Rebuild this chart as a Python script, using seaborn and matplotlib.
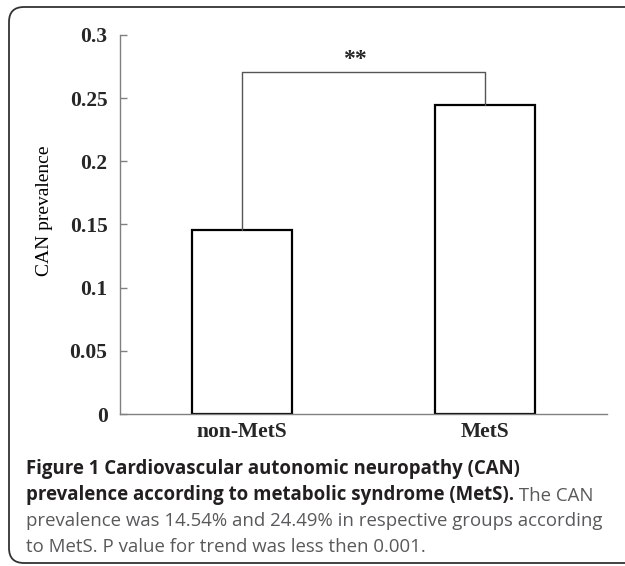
import matplotlib
matplotlib.use("Agg")
import matplotlib.pyplot as plt
import matplotlib.patches as mpatches
import matplotlib.transforms as mtransforms
import seaborn as sns
import pandas as pd

# data
groups = ["non-MetS", "MetS"]
prevalence = [0.1454, 0.2449]
y_ticks = [0, 0.05, 0.1, 0.15, 0.2, 0.25, 0.3]
y_tick_labels = ["0", "0.05", "0.1", "0.15", "0.2", "0.25", "0.3"]
bracket_y = 0.271
sig_label = "**"

df = pd.DataFrame({"group": groups, "prev": prevalence})

sns.set_theme(style="white")
plt.rcParams["font.family"] = ["Liberation Serif", "DejaVu Serif"]

W, H = 625, 566
fig = plt.figure(figsize=(W / 100, H / 100), dpi=100)
ax = fig.add_axes([120 / W, 1 - 414 / H, (607 - 120) / W, (414 - 35) / H])

sns.barplot(data=df, x="group", y="prev", color="white", edgecolor="black",
            linewidth=1.6, width=0.41, saturation=1, ax=ax)

ax.set_xlim(-0.5, 1.5)
ax.set_ylim(0, 0.3)
ax.set_yticks(y_ticks)
ax.set_yticklabels(y_tick_labels, fontweight="bold", fontsize=15.5)
ax.set_xticks([0, 1])
ax.set_xticklabels(groups, fontweight="bold", fontsize=15.5)
ax.set_xticks([-0.5, 0.5, 1.5], minor=True)
ax.tick_params(axis="x", which="major", length=0, pad=6)
ax.tick_params(axis="x", which="minor", direction="in", length=4,
               color="#808080", width=1)
ax.tick_params(axis="y", direction="in", length=5, color="#808080", width=1,
               pad=9, left=True)
ax.set_xlabel("")
ax.set_ylabel("CAN prevalence", fontsize=14, color="black")
ax.yaxis.set_label_coords(-0.138, 0.535)

sns.despine(ax=ax)
for s in ["left", "bottom"]:
    ax.spines[s].set_color("#808080")
    ax.spines[s].set_linewidth(1)

# significance bracket
ax.plot([0, 0, 1, 1], [prevalence[0], bracket_y, bracket_y, prevalence[1]],
        color="#555555", lw=1, clip_on=False)
ax.text(0.463, 0.281, sig_label, ha="center", va="center", fontsize=17,
        fontweight="bold")

# caption, font size fitted so the third line spans about 574 px
bold_c = "#231f20"
reg_c = "#58595b"
x0 = 26 / W
probe = fig.text(0, 0, "prevalence was 14.54% and 24.49% in respective groups according",
                 fontfamily="Open Sans", fontsize=13)
fig.canvas.draw()
fs = 13 * 574 / probe.get_window_extent().width
probe.remove()
cap = dict(fontfamily="Open Sans", fontsize=fs)

fig.text(x0, 1 - 474 / H, "Figure 1 Cardiovascular autonomic neuropathy (CAN)",
         fontweight="bold", color=bold_c, va="baseline", **cap)
b2 = fig.text(x0, 1 - 500 / H,
              "prevalence according to metabolic syndrome (MetS).",
              fontweight="bold", color=bold_c, va="baseline", **cap)
ax.annotate(" The CAN", xy=(1, 0), xycoords=b2, va="bottom", ha="left",
            color=reg_c, annotation_clip=False, **cap)
fig.text(x0, 1 - 526 / H,
         "prevalence was 14.54% and 24.49% in respective groups according",
         color=reg_c, va="baseline", **cap)
fig.text(x0, 1 - 552 / H, "to MetS. P value for trend was less then 0.001.",
         color=reg_c, va="baseline", **cap)

# rounded panel border running off the right edge
r = 15
box = mpatches.FancyBboxPatch((9, 3), 700, 556,
                              boxstyle=f"round,pad=0,rounding_size={r}",
                              transform=mtransforms.IdentityTransform(),
                              fill=False, edgecolor="#333333", lw=1.3)
fig.add_artist(box)

fig.savefig("out.png", dpi=100)
